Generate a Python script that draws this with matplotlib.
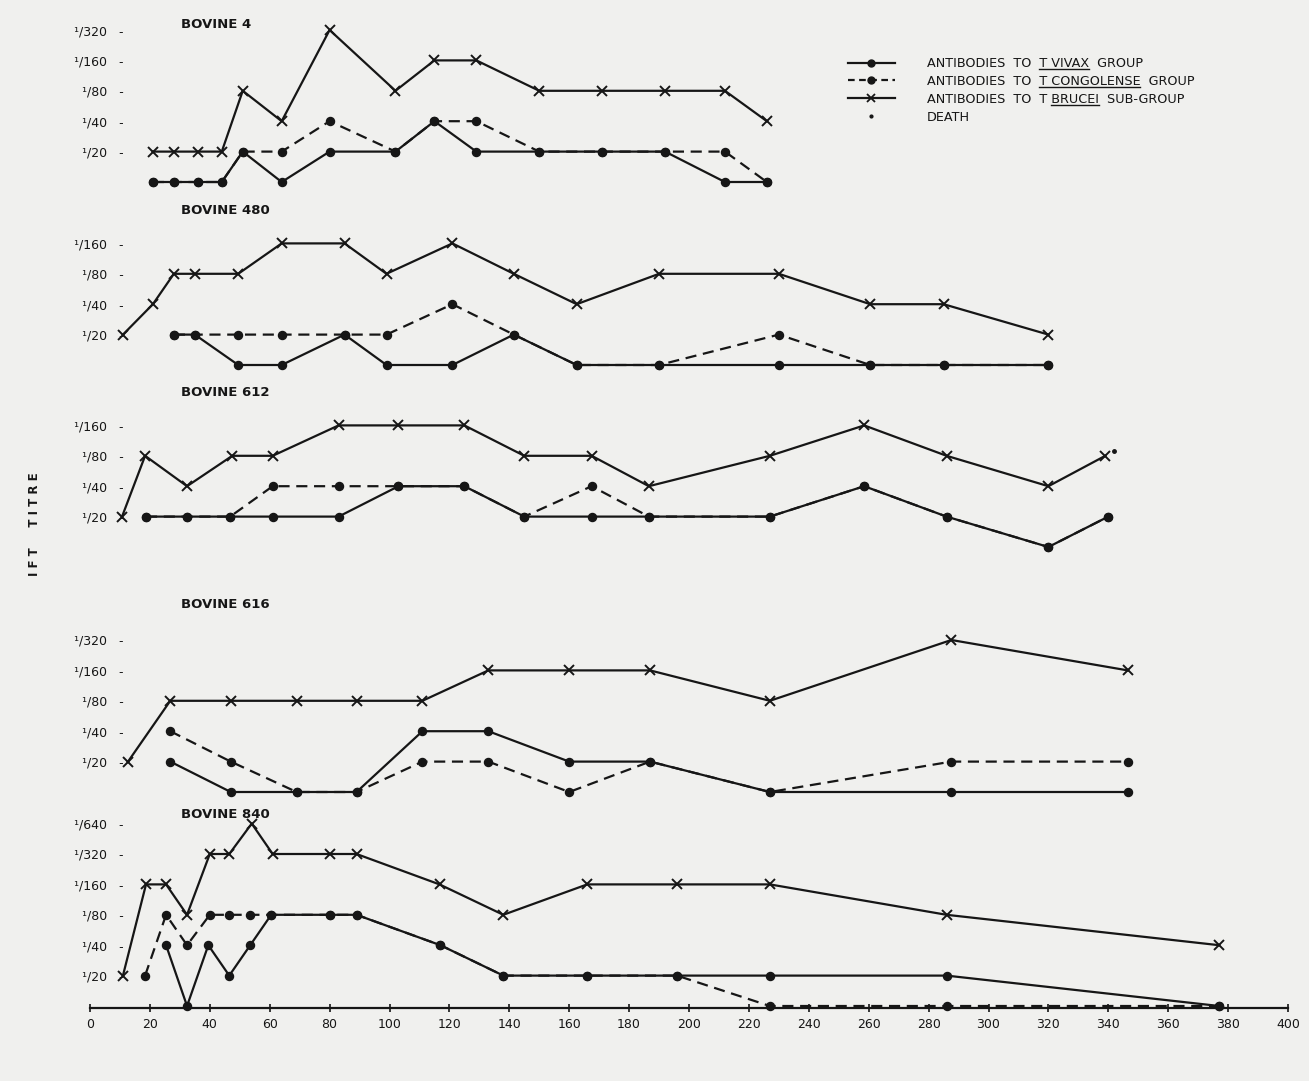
import matplotlib
matplotlib.use("Agg")
import matplotlib.pyplot as plt
from matplotlib.lines import Line2D

plt.rcParams['font.family'] = ['DejaVu Sans']

INK = '#161616'
BG = '#f0f0ee'

# ---------------- data (titre levels: 0 = <1/20, 1 = 1/20, 2 = 1/40, ... ) -------------
titre_labels = ["\u00b9/20   -", "\u00b9/40   -", "\u00b9/80   -", "\u00b9/160   -", "\u00b9/320   -", "\u00b9/640   -"]
x_ticks = list(range(0, 401, 20))

animals = ["BOVINE 4", "BOVINE 480", "BOVINE 612", "BOVINE 616", "BOVINE 840"]

b4_days = [21, 28, 36, 44, 51, 64, 80, 102, 115, 129, 150, 171, 192, 212, 226]
b4_brucei = [1, 1, 1, 1, 3, 2, 5, 3, 4, 4, 3, 3, 3, 3, 2]
b4_vivax = [0, 0, 0, 0, 1, 0, 1, 1, 2, 1, 1, 1, 1, 0, 0]
b4_congolense = [0, 0, 0, 0, 1, 1, 2, 1, 2, 2, 1, 1, 1, 1, 0]

b480_days_brucei = [11, 21, 28, 35, 49.5, 64, 85, 99, 121, 141.5, 162.5, 190, 230, 260.5, 285, 320]
b480_brucei = [1, 2, 3, 3, 3, 4, 4, 3, 4, 3, 2, 3, 3, 2, 2, 1]
b480_days = [28, 35, 49.5, 64, 85, 99, 121, 141.5, 162.5, 190, 230, 260.5, 285, 320]
b480_vivax = [1, 1, 0, 0, 1, 0, 0, 1, 0, 0, 0, 0, 0, 0]
b480_congolense = [1, 1, 1, 1, 1, 1, 2, 1, 0, 0, 1, 0, 0, 0]

b612_days_brucei = [10.7, 18.4, 32.4, 47.5, 61, 83, 103, 125, 145, 167.5, 186.6, 227, 258.5, 286, 320, 339]
b612_brucei = [1, 3, 2, 3, 3, 4, 4, 4, 3, 3, 2, 3, 4, 3, 2, 3]
b612_days = [18.7, 32.4, 46.8, 61, 83, 103, 125, 145, 167.5, 186.6, 227, 258.5, 286, 320, 340]
b612_vivax = [1, 1, 1, 1, 1, 2, 2, 1, 1, 1, 1, 2, 1, 0, 1]
b612_congolense = [1, 1, 1, 2, 2, 2, 2, 1, 2, 1, 1, 2, 1, 0, 1]
b612_death_day = [342]
b612_death_level = [3.15]

b616_days_brucei = [12.7, 26.8, 47, 69, 89, 111, 133, 160, 187, 227, 287.6, 346.5]
b616_brucei = [1, 3, 3, 3, 3, 3, 4, 4, 4, 3, 5, 4]
b616_days = [26.8, 47, 69, 89, 111, 133, 160, 187, 227, 287.6, 346.5]
b616_vivax = [1, 0, 0, 0, 2, 2, 1, 1, 0, 0, 0]
b616_congolense = [2, 1, 0, 0, 1, 1, 0, 1, 0, 1, 1]

b840_days_brucei = [11, 18.7, 25.4, 32.4, 40, 46.5, 54, 61, 80, 89, 116.7, 138, 166, 196, 227, 286, 377]
b840_brucei = [1, 4, 4, 3, 5, 5, 6, 5, 5, 5, 4, 3, 4, 4, 4, 3, 2]
b840_days_vivax = [25.4, 32.4, 39.5, 46.5, 53.5, 60.5, 80, 89, 117, 138, 166, 196, 227, 286, 377]
b840_vivax = [2, 0, 2, 1, 2, 3, 3, 3, 2, 1, 1, 1, 1, 1, 0]
b840_days_cong = [18.4, 25.4, 32.4, 40, 46.5, 53.5, 60.5, 80, 89, 117, 138, 166, 196, 227, 286, 377]
b840_congolense = [1, 3, 2, 3, 3, 3, 3, 3, 3, 2, 1, 1, 1, 0, 0, 0]

panels = [
    dict(vivax=(b4_days, b4_vivax), cong=(b4_days, b4_congolense), brucei=(b4_days, b4_brucei), top=5),
    dict(vivax=(b480_days, b480_vivax), cong=(b480_days, b480_congolense), brucei=(b480_days_brucei, b480_brucei), top=4),
    dict(vivax=(b612_days, b612_vivax), cong=(b612_days, b612_congolense), brucei=(b612_days_brucei, b612_brucei), top=4,
         death=(b612_death_day, b612_death_level)),
    dict(vivax=(b616_days, b616_vivax), cong=(b616_days, b616_congolense), brucei=(b616_days_brucei, b616_brucei), top=5),
    dict(vivax=(b840_days_vivax, b840_vivax), cong=(b840_days_cong, b840_congolense), brucei=(b840_days_brucei, b840_brucei), top=6),
]

legend_labels = ["ANTIBODIES  TO  T VIVAX  GROUP",
                 "ANTIBODIES  TO  T CONGOLENSE  GROUP",
                 "ANTIBODIES  TO  T BRUCEI  SUB-GROUP",
                 "DEATH"]
legend_underlined = ["T VIVAX", "T CONGOLENSE", "BRUCEI", None]

# ---------------- layout (pixels) ----------------
W, H = 1309, 1081
fig = plt.figure(figsize=(W / 100, H / 100), dpi=100, facecolor=BG)

zero_px = [182, 365, 547, 792, 1006]
title_px = [25, 210, 392, 605, 814]
px_per_level = 30.4
x_left, x_right = 90, 1288

lw = 1.6
dash = (0, (5, 3))

for i, p in enumerate(panels):
    lo = -0.08 if i == 4 else -0.6
    hi = p['top'] + 0.6
    bottom_px = zero_px[i] - lo * px_per_level
    top_px = zero_px[i] - hi * px_per_level
    ax = fig.add_axes([x_left / W, 1 - bottom_px / H, (x_right - x_left) / W, (bottom_px - top_px) / H])
    ax.set_facecolor('none')
    ax.set_xlim(0, 400)
    ax.set_ylim(lo, hi)
    for s in ['top', 'right', 'left']:
        ax.spines[s].set_visible(False)

    dv, vv = p['vivax']
    dc, vc = p['cong']
    db, vb = p['brucei']
    ax.plot(dv, vv, color=INK, lw=lw, marker='o', ms=5.8, zorder=3, clip_on=False)
    ax.plot(dc, vc, color=INK, lw=lw, ls=dash, marker='o', ms=5.8, zorder=3, clip_on=False)
    ax.plot(db, vb, color=INK, lw=lw, marker='x', ms=7, mew=1.4, zorder=3, clip_on=False)
    if 'death' in p:
        ax.plot(*p['death'], ls='none', marker='o', ms=2.5, color=INK, zorder=4)

    levels = list(range(1, p['top'] + 1))
    ax.set_yticks(levels, titre_labels[:p['top']])
    ax.tick_params(axis='y', length=0, pad=-24, labelsize=9, labelcolor=INK)
    for lab in ax.get_yticklabels():
        lab.set_horizontalalignment('right')

    if i == 4:
        ax.spines['bottom'].set_color(INK)
        ax.spines['bottom'].set_linewidth(1.6)
        ax.set_xticks(x_ticks, [str(t) for t in x_ticks])
        ax.tick_params(axis='x', direction='inout', length=6, width=1.2, color=INK,
                       labelsize=9, labelcolor=INK, pad=4)
    else:
        ax.spines['bottom'].set_visible(False)
        ax.set_xticks([])

    fig.text(181 / W, 1 - title_px[i] / H, animals[i], fontsize=9.5, fontweight='bold',
             color=INK, va='center', ha='left')

fig.text(35 / W, 1 - 524 / H, "I F T     T I T R E", rotation=90, fontsize=8.5,
         fontweight='bold', color=INK, va='center', ha='center')

handles = [
    Line2D([], [], color=INK, lw=lw, marker='o', ms=5),
    Line2D([], [], color=INK, lw=lw, ls=(0, (3, 2)), marker='o', ms=5),
    Line2D([], [], color=INK, lw=lw, marker='x', ms=6, mew=1.3),
    Line2D([], [], color=INK, ls='none', marker='o', ms=2),
]
leg = fig.legend(handles, legend_labels, loc='upper left', bbox_to_anchor=(848 / W, 1 - 57 / H),
                 frameon=False, fontsize=9.2, handlelength=3.67, handletextpad=2.5,
                 labelspacing=0.38, borderaxespad=0, borderpad=0)
for t in leg.get_texts():
    t.set_color(INK)

# underline the species names in the legend
fig.canvas.draw()
renderer = fig.canvas.get_renderer()
for t, sub in zip(leg.get_texts(), legend_underlined):
    if sub is None:
        continue
    s = t.get_text()
    k = s.index(sub)
    bb = t.get_window_extent(renderer)
    prop = t.get_fontproperties()
    w_pre = renderer.get_text_width_height_descent(s[:k], prop, ismath=False)[0] if k else 0
    w_sub = renderer.get_text_width_height_descent(sub, prop, ismath=False)[0]
    w_all = renderer.get_text_width_height_descent(s, prop, ismath=False)[0]
    scale = bb.width / w_all
    x0 = bb.x0 + w_pre * scale
    x1 = x0 + w_sub * scale
    y = bb.y0 + 1
    fig.add_artist(Line2D([x0 / W, x1 / W], [y / H, y / H], transform=fig.transFigure,
                          color=INK, lw=1.0))

fig.savefig("out.png", dpi=100, facecolor=BG)
